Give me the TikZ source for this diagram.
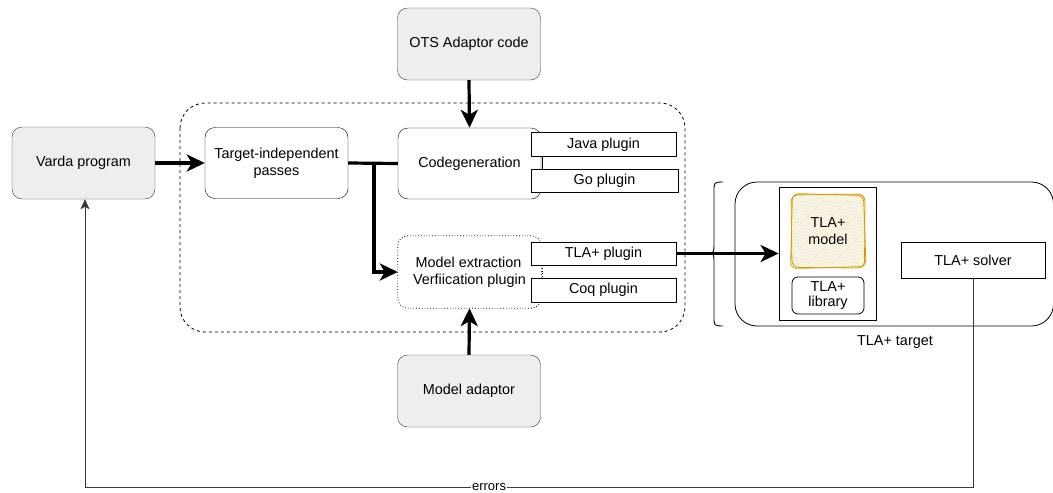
\documentclass[tikz,border=0pt]{standalone}
\usepackage{fontspec}
\setmainfont{Liberation Sans}
\usetikzlibrary{arrows.meta,patterns}
\definecolor{boxgray}{HTML}{EEEEEE}
\definecolor{edge}{HTML}{36393D}
\definecolor{sketch}{HTML}{D79B00}
\tikzset{
  every node/.style={font=\fontsize{14.4}{17}\selectfont, align=center, text=black},
  grayblock/.style={draw=edge, fill=boxgray, rounded corners=10pt, minimum width=143pt, minimum height=72pt, inner sep=0pt},
  whiteblock/.style={draw=black, fill=white, rounded corners=10pt, minimum width=143pt, minimum height=71pt, inner sep=0pt},
  plugin/.style={draw=black, fill=white, minimum width=145pt, minimum height=24pt, inner sep=0pt},
  thickarrow/.style={line width=3.2pt, -{Stealth[length=18pt,width=17pt,inset=5pt]}},
  thickline/.style={line width=3.2pt},
  thinarrow/.style={line width=0.9pt, draw=edge, -{Stealth[length=10pt,width=9pt,inset=2.5pt]}},
}
\begin{document}
\begin{tikzpicture}[x=1pt,y=-1pt]
\useasboundingbox (0,0) rectangle (1053,493);
% containers
\draw[dashed, rounded corners=25pt, line width=0.8pt] (180,103) rectangle (685,332);
\draw[rounded corners=22pt, line width=0.8pt] (735,182) rectangle (1053.5,326);
\node (tgtlabel) at (895,342) {TLA+ target};
% nodes
\node[grayblock] (varda) at (83.5,163) {Varda program};
\node[grayblock] (ots) at (469,44) {OTS Adaptor code};
\node[grayblock] (madapt) at (469,391) {Model adaptor};
\node[whiteblock] (tip) at (276.5,163) {Target-independent\\passes};
\node[whiteblock] (cg) at (469.5,163.5) {Codegeneration};
\node[whiteblock, draw=none, minimum height=72pt] (me) at (469.5,272) {};
\draw[dotted, rounded corners=10pt, line width=0.8pt] (me.south west) rectangle (me.north east);
\node at (469.5,272) {Model extraction\hspace*{2pt}\\Verfiication plugin};
\node[plugin] (java) at (603.5,144.5) {Java plugin};
\node[plugin, minimum width=147pt, minimum height=23pt] (go) at (604.5,180.5) {Go plugin};
\node[plugin, minimum height=23pt] (tlap) at (603.5,253.5) {TLA+ plugin};
\node[plugin] (coq) at (603.5,290) {Coq plugin};
\draw[line width=0.8pt] (542,157) -- (542,169);
\draw[dotted, line width=0.8pt] (542,265) -- (542,278);
% TLA+ side
\node[draw=black, line width=0.8pt, minimum width=97pt, minimum height=133pt, inner sep=0pt] (tlabox) at (827.5,253.5) {};
\node[minimum width=74pt, minimum height=74pt, inner sep=0pt] (model) at (828,231) {};
\begin{scope}
\clip[rounded corners=6pt] (model.south west) rectangle (model.north east);
\fill[pattern=north east lines, pattern color=sketch!35] (model.south west) rectangle (model.north east);
\end{scope}
\draw[sketch, line width=0.8pt, rounded corners=7pt] (791,195) -- (865,194) -- (864.5,268) -- (792,267.5) -- cycle;
\draw[sketch, line width=0.8pt, rounded corners=6pt] (792.5,193.5) -- (863.5,195.5) -- (866,266.5) -- (790.5,268.5) -- cycle;
\node at (model) {TLA+\\model};
\node[draw=black, rounded corners=6pt, line width=0.8pt, minimum width=72pt, minimum height=37pt, inner sep=0pt, font=\fontsize{14.4}{15.5}\selectfont] (lib) at (828,295.5) {TLA+\\library};
\node[draw=black, line width=0.8pt, minimum width=144pt, minimum height=36pt, inner sep=0pt] (solver) at (973,260) {TLA+ solver};
% brace
\draw[line width=0.9pt] (723,182) .. controls (714,182) and (714,183) .. (714,190) -- (714,246) .. controls (714,252) and (713,253) .. (710,253) .. controls (713,253) and (714,254) .. (714,260) -- (714,318) .. controls (714,325) and (714,326) .. (723,326);
% connectors
\draw[thickarrow] (varda.east) -- (tip.west);
\draw[thickline] (tip.east) -- (cg.west);
\coordinate (branch) at (374,163);
\draw[thickarrow] (branch) |- (me.west);
\draw[thickarrow] (ots.south) -- (cg.north);
\draw[thickarrow] (madapt.north) -- (me.south);
\draw[thickarrow] (tlap.east) -- (tlabox.west);
\coordinate (c1) at (973,487);
\coordinate (c2) at (85,487);
\draw[thinarrow] (solver.south) -- (c1) -- node[pos=0.545, fill=white, inner sep=1pt, font=\fontsize{13}{14}\selectfont] {errors} (c2) -- (c2 |- varda.south);
\end{tikzpicture}
\end{document}
